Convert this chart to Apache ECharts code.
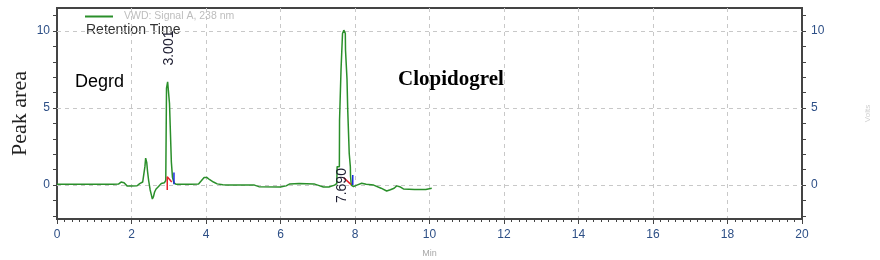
<!DOCTYPE html>
<html>
<head>
<meta charset="utf-8">
<script src="https://cdn.jsdelivr.net/npm/echarts@6/dist/echarts.min.js"></script>
<style>html,body{margin:0;padding:0;background:#fff;}#c{width:880px;height:260px;}</style>
</head>
<body>
<div id="c"></div>
<script>
// Chromatogram trace (time in min, signal)
var times = [0.0,0.5,1.0,1.5,1.65,1.72,1.80,1.88,2.0,2.15,2.22,2.30,2.34,2.36,2.38,2.41,2.43,2.46,2.50,2.53,2.56,2.59,2.62,2.66,2.72,2.80,2.88,2.92,2.94,2.97,3.00,3.02,3.06,3.07,3.10,3.14,3.20,3.5,3.55,3.60,3.80,3.88,3.95,4.02,4.10,4.20,4.30,4.45,4.6,4.65,4.7,5.3,5.42,6.0,6.15,6.25,6.5,6.9,7.0,7.15,7.3,7.45,7.51,7.52,7.58,7.585,7.62,7.625,7.66,7.665,7.70,7.74,7.745,7.78,7.785,7.80,7.805,7.84,7.845,7.87,7.875,7.88,7.90,7.96,8.05,8.18,8.3,8.5,8.7,8.85,8.95,9.05,9.12,9.2,9.3,9.6,9.9,9.95,10.06];
var signal = [0.05,0.05,0.05,0.05,0.07,0.2,0.15,-0.05,-0.06,-0.04,0.1,0.2,0.3,1.2,1.75,1.45,0.9,0.3,-0.3,-0.6,-0.9,-0.75,-0.45,-0.25,-0.1,0.1,0.15,0.3,6.3,6.7,6.6,5.3,5.2,1.5,0.5,0.15,0.05,0.05,0.15,0.05,0.08,0.3,0.5,0.5,0.35,0.2,0.08,0.02,0.0,0.1,0.0,0.0,-0.1,-0.12,-0.05,0.08,0.1,0.08,0.0,-0.12,-0.12,0.0,0.1,1.2,1.2,4.2,4.2,7.5,7.5,9.85,10.06,9.85,8.77,8.77,6.9,6.9,4.87,4.87,2.05,2.05,1.19,0.6,0.0,-0.1,0.0,0.12,0.05,0.0,-0.2,-0.38,-0.3,-0.2,-0.05,-0.1,-0.25,-0.28,-0.28,-0.2,-0.2];
// Integration marks
var redMarkA = [[2.96,-0.32],[2.96,0.54],[3.08,0.21]];
var blueMarkA = [[3.14,0.06],[3.14,0.82]];
var redMarkB = [[7.70,0.47],[7.89,0.05]];
var blueMarkB = [[7.94,0.0],[7.94,0.65]];
// Peak retention-time labels
var peakTimes = [3.001, 7.690];
var peakLabelPos = [[3.0, 8.9], [7.65, -0.03]];
// Axis ticks
var xMin = 0, xMax = 20, xStep = 2;
var yMin = -2.2, yMax = 11.5;
var yTicks = [-2,-1,0,1,2,3,4,5,6,7,8,9,10,11];
var yLabels = [0,5,10];
var seriesName = 'VWD: Signal A, 238 nm';

var trace = times.map(function(t,i){return [t, signal[i]];});
var labelColor = '#2d4f86';
var axisColor = '#444';

function yAxisDef(pos, name, gap, rot, nameStyle, margin){
  return {
    type:'value', position:pos, min:yMin, max:yMax,
    axisLine:{show:true, onZero:false, lineStyle:{color:axisColor, width:2}},
    axisTick:{show:true, customValues:yTicks, length:4, lineStyle:{color:axisColor}},
    axisLabel:{customValues:yLabels, margin:margin, fontSize:12, color:labelColor, fontFamily:'Liberation Sans'},
    splitLine:{show:false},
    name:name, nameLocation:'middle', nameGap:gap, nameRotate:rot, nameTextStyle:nameStyle,
    nameMoveOverlap:false
  };
}

var markSeries = [
  {data:redMarkA, color:'#e8202a'},
  {data:blueMarkA, color:'#1b2be0'},
  {data:redMarkB, color:'#e8202a'},
  {data:blueMarkB, color:'#1b2be0'}
].map(function(m){
  return {type:'line', data:m.data, showSymbol:false, silent:true, z:4,
          lineStyle:{color:m.color, width:1.5}, itemStyle:{color:m.color}, legendHoverLink:false};
});

var chart = echarts.init(document.getElementById('c'), null, {renderer:'canvas'});
chart.setOption({
  animation:false,
  backgroundColor:'#fff',
  grid:{left:57, right:78, top:8, bottom:41, containLabel:false, outerBoundsMode:'none',
        show:true, borderColor:axisColor, borderWidth:2},
  legend:{
    data:[seriesName], left:85, top:11, padding:0, icon:'rect', itemWidth:28, itemHeight:2,
    textStyle:{color:'#bdbdbd', fontSize:10.5, fontFamily:'Liberation Sans', padding:[0,0,0,6]}
  },
  xAxis:{
    type:'value', min:xMin, max:xMax, interval:xStep,
    axisLine:{show:true, onZero:false, lineStyle:{color:axisColor, width:2}},
    axisTick:{show:true, length:5, lineStyle:{color:axisColor}},
    minorTick:{show:true, splitNumber:10, length:3, lineStyle:{color:axisColor}},
    axisLabel:{margin:10, fontSize:12, color:labelColor, fontFamily:'Liberation Sans'},
    splitLine:{show:true, lineStyle:{color:'#c8c8c8', type:[4,4], width:1}},
    name:'Min', nameLocation:'middle', nameGap:30, nameMoveOverlap:false,
    nameTextStyle:{color:'#a8a8a8', fontSize:9, fontFamily:'Liberation Sans'}
  },
  yAxis:[
    yAxisDef('left','Peak area',26,90,{fontFamily:'Liberation Serif', fontSize:22, color:'#222'},7),
    yAxisDef('right','Volts',62,90,{fontFamily:'Liberation Sans', fontSize:8, color:'#cfcfcf'},9)
  ],
  series:[
    {
      name:seriesName, type:'line', data:trace, showSymbol:false, z:3,
      lineStyle:{color:'#2a8f2a', width:1.5}, itemStyle:{color:'#2a8f2a'},
      markLine:{
        silent:true, symbol:'none', z:1, label:{show:false},
        lineStyle:{color:'#c8c8c8', type:[4,4], width:1},
        data:yLabels.map(function(v){return {yAxis:v};})
      },
      markPoint:{
        silent:true, symbol:'circle', symbolSize:0,
        data:peakTimes.map(function(t,i){
          return {coord:peakLabelPos[i], value:t.toFixed(3),
            label:{show:true, rotate:90, position:'inside', formatter:t.toFixed(3),
                   fontSize:14, color:'#1c1c30', fontFamily:'Liberation Sans'}};
        })
      }
    }
  ].concat(markSeries),
  graphic:[
    {type:'text', left:86, top:23, style:{text:'Retention Time', fontSize:14, fill:'#333', fontFamily:'Liberation Sans'}},
    {type:'text', left:75, top:73, style:{text:'Degrd', fontSize:18, fill:'#000', fontFamily:'Liberation Sans'}},
    {type:'text', left:398, top:69, style:{text:'Clopidogrel', fontSize:21, fontWeight:'bold', fill:'#000', fontFamily:'Liberation Serif'}}
  ]
});
</script>
</body>
</html>
